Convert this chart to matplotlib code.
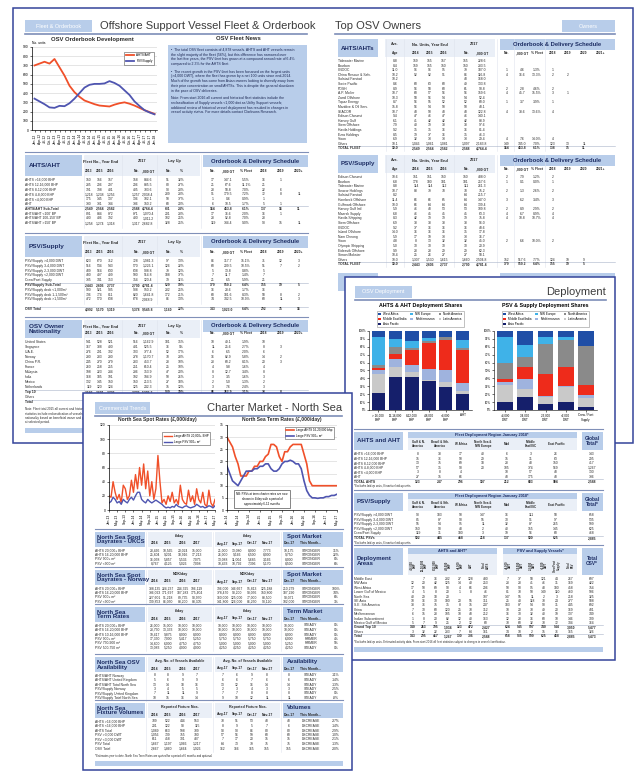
#!/usr/bin/env python3
"""Offshore support vessel report: three overlapping report pages
(fleet & orderbook spread, deployment page, North Sea charter market page)."""
import textwrap

import numpy as np
import matplotlib
matplotlib.use("Agg")
import matplotlib.pyplot as plt
from matplotlib.patches import Rectangle

plt.rcParams["font.family"] = ["Liberation Sans", "DejaVu Sans"]

# ---------------- chart data ----------------
ob_quarters = ["Jan-12", "Apr-12", "Jul-12", "Oct-12", "Jan-13", "Apr-13", "Jul-13",
               "Oct-13", "Jan-14", "Apr-14", "Jul-14", "Oct-14", "Jan-15", "Apr-15",
               "Jul-15", "Oct-15", "Jan-16", "Apr-16", "Jul-16", "Oct-16", "Jan-17",
               "Apr-17", "Jul-17", "Oct-17", "Jan-18"]
ob_ahts = [700, 720, 740, 720, 770, 680, 590, 480, 410, 360, 320, 300, 280, 265,
           260, 255, 275, 290, 300, 285, 265, 240, 215, 195, 175]
ob_psv = [340, 310, 280, 245, 240, 262, 258, 290, 340, 400, 460, 490, 500, 500,
          505, 530, 510, 480, 430, 380, 310, 260, 215, 190, 170]

ahts_cats = ["> 16,000\nBHP", "12-16,000\nBHP", "8-12,000\nBHP", "4-8,000\nBHP",
             "<4,000\nBHP", "AHT"]
psv_cats = [">4,000\nDWT", "3-4,000\nDWT", "2-3,000\nDWT", "<2,000\nDWT",
            "Crew / Fast\nSupply"]
# shares (%) per region, bottom of the stack first
regions = ["Asia Pacific", "Latin America", "Mediterranean", "Middle East/India",
           "North America", "NW Europe", "West Africa"]
region_colors = ["#151f6b", "#c9c9c9", "#9fb3de", "#ee2b1b", "#8a8a8a",
                 "#3fb2e8", "#1f4ea6"]
ahts_shares = [
    [22, 42, 42, 37, 29, 20],
    [23, 12, 6, 1, 6, 4],
    [6, 10, 9, 14, 15, 10],
    [2, 7, 19, 33, 39, 42],
    [4, 9, 2, 2, 3, 3],
    [36, 10, 9, 4, 1, 9],
    [7, 10, 13, 9, 7, 12],
]
psv_shares = [
    [10, 16, 8, 10, 4],
    [22, 11, 9, 19, 11],
    [4, 12, 1, 1, 4],
    [3, 16, 28, 24, 13],
    [20, 12, 38, 35, 49],
    [34, 15, 9, 3, 0],
    [7, 18, 7, 8, 19],
]

spot_ticks = ["Jan-13", "May-13", "Sep-13", "Jan-14", "May-14", "Sep-14", "Jan-15",
              "May-15", "Sep-15", "Jan-16", "May-16", "Sep-16", "Jan-17", "May-17"]
spot_ahts = [20, 18, 40, 25, 15, 22, 10, 35, 30, 15,
             20, 42, 25, 50, 30, 60, 35, 65, 30, 55,
             20, 40, 15, 30, 77, 40, 10, 15, 8, 20,
             12, 25, 10, 15, 8, 35, 15, 10, 8, 28,
             12, 20, 8, 30, 15, 10, 25, 8, 5, 28,
             10, 5, 15]
spot_psv = [10, 12, 18, 15, 10, 12, 8, 15, 12, 10,
            15, 18, 14, 20, 25, 25, 15, 12, 10, 15,
            12, 10, 12, 14, 12, 10, 8, 5, 3, 4,
            3, 5, 4, 8, 5, 4, 3, 5, 6, 4,
            3, 4, 5, 8, 6, 4, 5, 3, 4, 6,
            5, 3, 6]
term_ticks = ["Jan-14", "May-14", "Sep-14", "Jan-15", "May-15", "Sep-15", "Jan-16",
              "May-16", "Sep-16", "Jan-17", "May-17"]
term_ahts = [30, 28, 26, 22, 19, 14, 14, 14, 16, 16, 18, 18, 20, 20, 22, 23, 27, 27,
             26, 22, 20, 24, 24, 26, 27, 27, 27, 27, 23, 19, 12, 10, 10, 10, 10, 10,
             10, 10, 10, 10, 10]
term_psv = [18, 15, 12, 11, 10, 12, 14, 16, 16, 16, 17, 17, 18, 18, 19, 19, 17, 16,
            16, 17, 19, 20, 20, 20.5, 20, 19, 19, 17, 12, 8, 6, 5, 5, 4.8, 5, 5, 5.5,
            5.5, 6, 6, 6.5]

# ---------------- table data ----------------
news = [
    "\u2022  The total OSV fleet consists of 4,878 vessels. AHTS and AHT vessels remain "
    "the slight majority of the fleet (56%), but this difference has narrowed over the "
    "last five years, the PSV fleet has grown at a compound annual rate of 6.4% "
    "compared to 2.3% for the AHTS fleet.",
    "\u2022  The recent growth in the PSV fleet has been focussed on the largest units "
    "(>4,000 DWT), where the fleet has grown by a net 100 units since end-2014. Much of "
    "the growth has come from Asian owners looking to diversify away from their prior "
    "concentration on small AHTSs. This is despite the general slowdown in the pace of "
    "OSV deliveries.",
    "Note: From start 2016 all current and historical fleet statistics include the "
    "reclassification of Supply vessels <1,000 dwt as Utility Support vessels; additional "
    "review of historical vessel deployment has resulted in changes in vessel activity "
    "status. For more details contact Clarksons Research.",
]

fleet_groups = ["Fleet No., Year End", "2017", "Lay Up"]
fleet_group_x = [101, 142, 174]
fleet_sub = ["2013", "2015", "2016", "No.", ",000 GT", "No.", "%", "No.", ",000 GT",
             "% Fleet", "2018", "2019", "2020+"]
fleet_cols = [89, 100, 111, 136, 148, 168, 181, 213, 228, 246, 264, 281, 299]

ahts_labels = ["AHTS >16,000 BHP", "AHTS 12-16,000 BHP", "AHTS 8-12,000 BHP",
               "AHTS 4-8,000 BHP", "AHTS <4,000 BHP", "AHT", "AHTS/AHT Sub-Total",
               "AHTS/AHT <100' BP", "AHTS/AHT 100-150' BP", "AHTS/AHT >150' BP"]
ahts_vals = [
    "150 156 157 158 884.6 51 32% 17 147.1 5.5% 16 1 _",
    "285 296 297 296 885.5 80 27% 21 67.6 11.1% 21 _ _",
    "391 398 401 405 703.6 93 23% 28 58.8 7.0% 22 6 _",
    "1,218 1,238 1,256 1,257 2,038.4 289 23% 91 179.5 7.2% 72 8 11",
    "175 145 137 136 102.1 50 37% 1 0.6 0.9% 1 _ _",
    "330 331 334 336 150.2 68 20% 6 10.5 1.7% 5 1 _",
    "2,549 2,564 2,582 2,588 4,764.4 631 24% 164 463.8 6.1% 137 16 11",
    "891 884 872 871 1,070.4 201 23% 17 36.6 2.0% 16 1 _",
    "400 406 392 400 1,011.2 102 25% 28 92.8 7.0% 28 _ _",
    "1,258 1,274 1,318 1,317 2,682.8 328 25% 119 334.4 9.0% 93 15 11",
]
psv_labels = ["PSV/Supply >4,000 DWT", "PSV/Supply 3-4,000 DWT", "PSV/Supply 2-3,000 DWT",
              "PSV/Supply <2,000 DWT", "Crew/Fast Supply", "PSV/Supply Sub-Total",
              "PSV/Supply deck <1,000m\u00b2", "PSV/Supply deck 1-1,500m\u00b2",
              "PSV/Supply deck >1,500m\u00b2", "OSV Total"]
psv_vals = [
    "623 670 712 728 1,981.3 97 13% 86 317.7 15.1% 71 12 3",
    "516 534 543 570 1,226.1 126 22% 60 209.5 10.5% 51 7 2",
    "489 564 630 638 938.8 79 12% 5 13.8 0.8% 5 _ _",
    "480 497 499 500 514.8 188 37% 7 11.7 1.4% 7 _ _",
    "335 341 353 354 120.4 39 11% 21 6.5 5.9% 21 _ _",
    "2,443 2,606 2,737 2,790 4,781.4 529 19% 179 559.2 6.4% 155 19 5",
    "900 921 935 938 950.2 232 25% 16 28.6 1.7% 16 _ _",
    "736 774 811 820 1,641.8 172 21% 68 181.6 8.3% 58 8 2",
    "472 570 638 678 2,068.9 86 13% 74 342.5 10.9% 60 11 3",
    "4,992 5,170 5,319 5,378 9,545.8 1,160 22% 343 1,023.0 6.4% 292 35 16",
]
nat_labels = ["United States", "Singapore", "U.A.E.", "Norway", "China P.R.", "France",
              "Malaysia", "India", "Mexico", "Netherlands", "Top 10", "Others", "Total"]
nat_vals = [
    "541 528 521 516 1,162.9 181 35% 10 49.1 1.9% 10 _ _",
    "367 388 400 401 525.5 36 9% 11 25.6 2.7% 8 3 _",
    "276 291 302 303 377.4 52 17% 6 6.5 2.0% 6 _ _",
    "280 283 280 278 1,170.7 78 28% 16 82.9 5.8% 14 2 _",
    "245 270 279 283 453.7 28 10% 23 60.2 8.1% 20 3 _",
    "260 258 255 251 610.4 25 10% 4 9.8 1.6% 4 _ _",
    "198 223 234 236 353.9 47 20% 8 12.7 3.4% 8 _ _",
    "168 185 191 192 194.9 50 26% 3 3.5 1.6% 3 _ _",
    "132 145 150 150 213.5 27 18% 2 5.0 1.3% 2 _ _",
    "119 120 124 125 242.3 15 12% 3 7.6 2.4% 3 _ _",
    "2,586 2,691 2,736 2,735 5,305.2 539 20% 86 262.9 3.1% 78 8 _",
    "2,406 2,479 2,583 2,643 4,240.6 621 23% 257 760.1 9.7% 214 27 16",
    "4,992 5,170 5,319 5,378 9,545.8 1,160 22% 343 1,023.0 6.4% 292 35 16",
]

own_sub = ["Age", "2014", "2015", "2016", "No.", ",000 GT", "No.", ",000 GT", "% Fleet",
           "2018", "2019", "2020", "2021+"]
own_cols = [395, 416, 430, 444, 466, 482, 507, 522, 537, 553, 568, 584, 601]
own_ahts_labels = ["Tidewater Marine", "Bourbon", "CNOOC", "China Rescue & Salv.",
                   "Solstad Farstad", "Swire Pacific", "POSH", "A.P. Moller",
                   "Zamil Offshore", "Topaz Energy", "Maridive & Oil Serv.", "SEACOR",
                   "Edison Chouest", "Harvey Gulf", "Siem Offshore", "Havila Holdings",
                   "Ezra Holdings", "Vroon", "Others", "TOTAL FLEET"]
own_ahts_vals = [
    "8.8 159 155 157 155 228.6 _ _ _ _ _ _ _",
    "8.4 159 155 150 150 233.5 _ _ _ _ _ _ _",
    "11.0 96 96 95 79 187.0 1 4.6 1.3% 1 _ _ _",
    "10.2 92 92 91 86 116.8 4 16.6 13.3% 2 2 _ _",
    "10.2 _ _ _ 48 168.0 _ _ _ _ _ _ _",
    "8.6 60 63 60 49 133.8 _ _ _ _ _ _ _",
    "8.9 56 58 60 61 90.8 2 2.8 4.6% 2 _ _ _",
    "10.7 60 57 56 56 159.6 4 45.7 15.5% 3 1 _ _",
    "10.3 58 56 54 54 52.4 _ _ _ _ _ _ _",
    "8.7 56 55 52 52 60.0 1 3.7 3.9% 1 _ _ _",
    "15.8 56 54 50 50 48.1 _ _ _ _ _ _ _",
    "10.7 48 50 48 48 122.8 4 38.6 13.6% 4 _ _ _",
    "9.4 47 46 47 46 140.1 _ _ _ _ _ _ _",
    "6.1 41 42 42 42 88.9 _ _ _ _ _ _ _",
    "7.9 40 39 38 38 97.6 _ _ _ _ _ _ _",
    "9.2 35 35 36 36 81.4 _ _ _ _ _ _ _",
    "8.5 39 37 36 35 46.3 _ _ _ _ _ _ _",
    "6.9 32 33 33 33 29.4 4 7.6 14.0% 4 _ _ _",
    "10.1 1,046 1,061 1,081 1,097 2,183.8 149 345.0 7.0% 123 13 11 _",
    "10.0 2,549 2,564 2,582 2,588 4,764.4 164 463.8 6.1% 138 15 11 _",
]
own_psv_labels = ["Edison Chouest", "Bourbon", "Tidewater Marine", "Seacor Holdings",
                  "Solstad Farstad", "Hornbeck Offshore", "Gulfmark Offshore",
                  "Harvey Gulf Intl.", "Maersk Supply", "Havila Shipping", "Siem Offshore",
                  "CNOOC", "Island Offshore", "Nam Cheong", "Vroon", "Olympic Shipping",
                  "Eidesvik Offshore", "Simon Mokster", "Others", "TOTAL FLEET"]
own_psv_vals = [
    "10.6 151 151 150 150 438.0 2 7.9 1.2% 2 _ _ _",
    "6.8 178 180 181 181 257.6 1 0.1 0.0% 1 _ _ _",
    "8.8 114 114 112 111 261.3 _ _ _ _ _ _ _",
    "10.7 88 79 78 78 75.2 2 1.3 2.6% 2 _ _ _",
    "8.2 _ _ _ 64 215.7 _ _ _ _ _ _ _",
    "11.4 66 66 65 64 147.0 3 6.2 3.4% 3 _ _ _",
    "10.0 66 64 64 64 139.4 _ _ _ _ _ _ _",
    "5.9 46 48 53 53 109.8 2 8.9 2.9% 2 _ _ _",
    "6.8 46 45 45 45 63.3 4 6.7 8.9% 4 _ _ _",
    "8.3 42 39 39 39 75.8 4 10.8 10.7% 4 _ _ _",
    "6.9 38 38 38 38 96.0 _ _ _ _ _ _ _",
    "9.2 37 36 36 36 48.6 _ _ _ _ _ _ _",
    "14.0 36 36 36 35 17.8 _ _ _ _ _ _ _",
    "5.9 17 19 33 33 36.7 _ _ _ _ _ _ _",
    "4.8 8 13 32 32 45.0 2 6.6 10.0% 2 _ _ _",
    "5.0 30 30 30 30 20.9 _ _ _ _ _ _ _",
    "9.9 28 28 29 29 62.3 _ _ _ _ _ _ _",
    "10.4 25 26 27 27 58.1 _ _ _ _ _ _ _",
    "10.0 1,307 1,530 1,615 1,660 2,504.8 152 517.6 7.7% 124 19 9 _",
    "10.0 2,443 2,606 2,737 2,790 4,781.4 179 559.2 6.4% 155 19 5 _",
]

reg_heads = ["Gulf & N.\nAmerica", "Brazil & Sth.\nAmerica", "W Africa",
             "North Sea &\nNW Europe", "Med", "Middle\nEast/ISC", "East Pacific"]
reg_cols = [418, 440, 461, 483, 507, 531, 556, 592]
dep_ahts_labels = ["AHTS >16,000 BHP", "AHTS 12-16,000 BHP", "AHTS 8-12,000 BHP",
                   "AHTS 4-8,000 BHP", "AHTS <4,000 BHP", "AHT", "TOTAL AHTS"]
dep_ahts_vals = [
    "8 38 17 40 6 3 26 143",
    "15 76 50 29 15 31 63 295",
    "13 75 69 18 28 43 150 417",
    "57 35 90 20 105 374 569 1,267",
    "3 8 4 _ 10 57 48 130",
    "27 15 66 _ 48 175 48 336",
    "123 247 296 107 212 683 904 2,588",
]
dep_psv_labels = ["PSV/Supply >4,000 DWT", "PSV/Supply 3-4,000 DWT",
                  "PSV/Supply 2-3,000 DWT", "PSV/Supply <2,000 DWT", "Crew/Fast Supply",
                  "TOTAL PSVs"]
dep_psv_vals = [
    "93 183 50 147 16 111 58 658",
    "85 87 90 55 30 91 97 535",
    "55 54 95 11 32 87 265 599",
    "150 90 43 2 40 155 145 625",
    "119 31 180 3 19 56 60 468",
    "502 445 458 218 137 500 625 2,885",
]
area_ahts_heads = [">16,000\nBHP", "12-16,000\nBHP", "8-12,000\nBHP", "4-8,000\nBHP",
                   "<4,000\nBHP", "AHT", "Total\nAHTS"]
area_psv_heads = [">4,000\nDWT", "3-4,000\nDWT", "2-3,000\nDWT", "<2,000\nDWT",
                  "Crew/Fast\nSupply", "Total\nPSV"]
area_cols = [413, 424, 436, 448, 460, 471, 486, 508, 520, 532, 544, 557, 571, 592]
area_labels = ["Middle East", "NW Asia", "West Africa", "Lower Gulf of Mexico",
               "North Sea", "SE Asia", "S.E. Sth America", "China", "Mediterranean",
               "Indian Subcontinent", "Mexico Gulf of Mexico", "Grand Top 10", "Others",
               "Total"]
area_vals = [
    "_ 7 36 232 27 128 430 7 37 58 121 44 267 697",
    "12 20 42 125 14 40 253 23 28 41 46 31 169 422",
    "17 50 69 90 4 66 296 50 90 95 43 180 458 754",
    "4 5 8 20 1 8 46 81 70 50 149 110 460 506",
    "40 29 18 20 _ _ 107 147 55 11 2 3 218 325",
    "10 16 30 180 20 55 311 25 40 118 70 24 277 588",
    "38 76 75 35 8 15 247 183 87 54 90 31 445 692",
    "7 30 60 120 25 70 312 10 20 70 49 20 169 481",
    "6 15 28 105 10 48 212 16 30 32 40 19 137 349",
    "1 8 20 82 12 40 163 12 28 36 60 10 146 309",
    "5 7 9 25 2 12 60 70 60 32 70 72 304 364",
    "140 263 395 1,034 123 472 2,427 624 545 597 740 544 3,050 5,477",
    "3 32 22 233 7 64 161 34 10 2 15 76 165 326",
    "143 295 417 1,267 130 336 2,588 658 535 599 625 468 2,885 5,473",
]

ch_sub = ["2014", "2015", "2016", "2017", "Aug-17", "Sep-17", "Oct-17", "Nov-17",
          "Dec-17", "This Month...", ""]
ch_cols = [155, 168, 183, 197, 223, 237, 252, 267, 289, 311, 336]
uk_labels = ["AHTS 20,000+ BHP", "AHTS 16-20,000 BHP", "PSV 900+ m\u00b2", "PSV <900 m\u00b2"]
uk_vals = [
    "28,466 10,565 20,024 15,000 21,000 13,080 8,000 7,773 10,175 STRONGER 31%",
    "25,804 9,201 18,916 17,213 26,000 9,166 6,500 8,000 9,750 STRONGER 22%",
    "16,058 5,857 5,536 7,075 13,088 11,004 5,685 3,166 8,000 STRONGER 8%",
    "8,767 4,125 5,026 7,098 10,433 10,792 7,396 5,170 8,500 STRONGER 6%",
]
nor_vals = [
    "388,135 224,237 244,325 196,119 396,000 146,667 95,813 125,188 210,279 STRONGER 100%",
    "336,023 171,697 187,283 175,404 378,470 98,200 98,056 150,800 187,290 STRONGER 74%",
    "227,601 91,218 89,735 98,970 160,000 125,000 77,000 88,500 98,071 STRONGER 6%",
    "139,853 86,050 88,200 88,305 141,800 126,000 86,250 93,120 102,000 STRONGER 3%",
]
term_labels = ["AHTS 20,000+ BHP", "AHTS 16-20,000 BHP", "AHTS 10-16,000 BHP",
               "PSV 900+ m\u00b2", "PSV 750-900 m\u00b2", "PSV 500-750 m\u00b2"]
term_vals = [
    "26,000 15,000 10,000 10,000 10,000 10,000 10,000 10,000 10,000 STEADY 0%",
    "23,750 13,333 10,000 10,000 10,000 10,000 10,000 10,000 10,000 STEADY 0%",
    "19,417 9,875 8,000 8,000 8,000 8,000 8,000 8,000 8,000 STEADY 0%",
    "17,350 7,000 5,417 5,250 5,750 5,750 5,750 5,750 6,000 FIRMER 4%",
    "14,800 6,000 4,750 4,750 5,000 5,000 5,000 5,000 5,250 FIRMER 5%",
    "13,083 5,250 4,000 4,000 4,250 4,250 4,250 4,250 4,250 STEADY 0%",
]
avail_labels = ["AHTS/AHT Norway", "AHTS/AHT United Kingdom", "AHTS/AHT Total North Sea",
                "PSV/Supply Norway", "PSV/Supply United Kingdom",
                "PSV/Supply Total North Sea"]
avail_vals = [
    "8 8 9 7 7 6 9 8 8 STEADY -11%",
    "5 6 9 9 6 6 7 6 6 STEADY -14%",
    "13 14 18 16 13 12 16 14 14 STEADY -13%",
    "3 4 5 5 2 3 4 3 3 STEADY -25%",
    "7 11 11 9 7 7 8 8 8 STEADY 0%",
    "10 15 16 14 9 10 12 11 11 STEADY -8%",
]
fix_labels = ["AHTS >16,000 BHP", "AHTS <16,000 BHP", "AHTS Total", "PSV >3,000 DWT",
              "PSV <3,000 DWT", "PSV Total", "OSV Total"]
fix_vals = [
    "789 522 444 553 70 51 53 48 48 DECREASE -37%",
    "201 122 98 115 8 9 5 7 6 DECREASE -14%",
    "1,089 663 598 709 98 93 86 80 80 DECREASE -29%",
    "1,056 739 755 780 57 56 59 60 60 DECREASE -10%",
    "611 458 301 437 7 17 20 15 15 DECREASE -21%",
    "1,667 1,197 1,066 1,217 64 73 79 75 75 DECREASE -13%",
    "2,667 1,860 1,664 1,926 162 166 165 155 155 DECREASE -30%",
]

# ---------------- drawing helpers ----------------
W, H = 637, 773
NAVY = "#34449a"
BOX = "#b8cdea"
PALE = "#eaeff7"
HEAD = "#1d2d63"
TXT = "#2b2b2b"
RED = "#f0502a"
BLUE = "#4f55b0"

fig = plt.figure(figsize=(W / 100, H / 100), dpi=100)


def layer(z):
    ax = fig.add_axes([0, 0, 1, 1], zorder=z)
    ax.set_xlim(0, W)
    ax.set_ylim(H, 0)
    ax.axis("off")
    return ax


def inset(x0, y0, x1, y1, z):
    return fig.add_axes([x0 / W, 1 - y1 / H, (x1 - x0) / W, (y1 - y0) / H], zorder=z)


def rect(ax, x0, y0, x1, y1, fc=BOX, ec="none", lw=0):
    ax.add_patch(Rectangle((x0, y0), x1 - x0, y1 - y0, fc=fc, ec=ec, lw=lw))


def txt(ax, x, y, s, size=2.4, ha="left", weight="normal", color=TXT, **kw):
    ax.text(x, y, s, fontsize=size, ha=ha, va="center", fontweight=weight,
            color=color, linespacing=1.0, **kw)


def hline(ax, x0, x1, y, color="#a8b2c8", lw=0.4):
    ax.plot([x0, x1], [y, y], color=color, lw=lw)


def rows(ax, labels, vals, xl, cols, y0, dy, bold=(), x1=None):
    for i, (lab, v) in enumerate(zip(labels, vals)):
        y = y0 + i * dy
        w = "bold" if i in bold else "normal"
        if i in bold and x1 is not None:
            hline(ax, xl, x1, y - dy / 2)
        txt(ax, xl, y, lab, weight=w)
        for x, s in zip(cols, v.split()):
            if s != "_":
                txt(ax, x, y, s, ha="center", weight=w)


def page_header(ax, tab, tx0, tx1, y, title, title_x, ha, lx0, lx1):
    rect(ax, tx0, y - 6, tx1, y + 6)
    txt(ax, (tx0 + tx1) / 2, y, tab, size=4, ha="center", color="white")
    txt(ax, title_x, y, title, size=8, ha=ha, color="#3c3c3c")
    hline(ax, lx0, lx1, y + 8, color="#7d8db8", lw=1.2)


def line_style(ax, ymax, step):
    ax.set_ylim(0, ymax)
    ax.set_yticks(range(0, ymax + 1, step))
    ax.grid(axis="y", color="#d2d2d2", lw=0.4)
    ax.set_axisbelow(True)
    for s in ("top", "right"):
        ax.spines[s].set_visible(False)
    for s in ("left", "bottom"):
        ax.spines[s].set_linewidth(0.5)
    ax.tick_params(labelsize=2.4, length=1.5, width=0.4, pad=1)


def small_legend(ax, **kw):
    leg = ax.legend(fontsize=2.2, handlelength=2.6, borderpad=0.5, labelspacing=0.6,
                    fancybox=False, edgecolor="#555555", framealpha=1, **kw)
    leg.get_frame().set_linewidth(0.4)


# ================= spread: Fleet & Orderbook + Top OSV Owners =================
L0 = layer(0)
rect(L0, 13, 8, 633, 443, fc="white", ec=NAVY, lw=1.1)
page_header(L0, "Fleet & Orderbook", 25, 92, 26,
            "Offshore Support Vessel Fleet & Orderbook", 100, "left", 25, 307)
page_header(L0, "Owners", 562, 615, 26, "Top OSV Owners", 335, "left", 335, 615)

# OSV orderbook development
txt(L0, 92, 39, "OSV Orderbook Development", size=4.2, ha="center", weight="bold")
ob = inset(32, 47, 157, 130, 1)
qx = np.arange(len(ob_quarters))
ob.plot(qx, ob_ahts, color=RED, lw=1.3, label="AHTS/AHT")
ob.plot(qx, ob_psv, color=BLUE, lw=1.3, label="PSV/Supply")
line_style(ob, 900, 100)
ob.set_xlim(-0.5, len(qx) - 0.5)
ob.set_xticks(qx, ob_quarters, rotation=90)
ob.text(0.0, 1.02, "No. units", transform=ob.transAxes, fontsize=2.4, va="bottom")
small_legend(ob, loc="upper right", bbox_to_anchor=(0.99, 0.96))

# fleet news box
txt(L0, 238, 39, "OSV Fleet News", size=4.2, ha="center", weight="bold")
rect(L0, 168, 45, 307, 143)
ny = 50
for para in news:
    for ln in textwrap.wrap(para, 78):
        txt(L0, 171, ny, ln, size=2.5, color="#1a2550")
        ny += 4.7
    ny += 3


def fleet_table(ax, y, title, labels, vals, bold, h=21, dy=4.8):
    hline(ax, 25, 308, y - 3, color="#8090b8", lw=0.8)
    rect(ax, 25, y, 82, y + h)
    txt(ax, 29, y + h / 2, title, size=4.6, weight="bold", color=HEAD)
    rect(ax, 85, y, 200, y + h, fc=PALE)
    for s, x in zip(fleet_groups, fleet_group_x):
        txt(ax, x, y + 6, s, size=2.8, ha="center", weight="bold")
    rect(ax, 203, y, 308, y + 12)
    txt(ax, 255, y + 6, "Orderbook & Delivery Schedule", size=4.2, ha="center",
        weight="bold", color=HEAD)
    for s, x in zip(fleet_sub, fleet_cols):
        txt(ax, x, y + h - 5, s, ha="center", weight="bold")
    for x in (84, 122, 157, 201):
        ax.plot([x, x], [y, y + h + 4 + len(labels) * dy], color="#dfe4ee", lw=0.4)
    rows(ax, labels, vals, 25, fleet_cols, y + h + 4, dy, bold, x1=308)


fleet_table(L0, 155, "AHTS/AHT", ahts_labels, ahts_vals, {6})
fleet_table(L0, 236, "PSV/Supply", psv_labels[:-1], psv_vals[:-1], {5})
rows(L0, psv_labels[-1:], psv_vals[-1:], 25, fleet_cols, 309, 4.8, {0}, x1=308)
fleet_table(L0, 320, "OSV Owner\nNationality", nat_labels, nat_vals, {10, 12}, h=18,
            dy=5.0)
note = ("Note: Fleet total 2015 all current and historical fleet statistics include "
        "reclassification of vessels; owner nationality based on beneficial owner and "
        "parent company as at selected period.")
for i, ln in enumerate(textwrap.wrap(note, 60)):
    txt(L0, 25, 409 + i * 4.5, ln, size=2.2)
rect(L0, 25, 428, 307, 433)


def owners_table(ax, y, title, labels, vals):
    rect(ax, 338, y, 378, y + 18)
    txt(ax, 341, y + 9, title, size=4.4, weight="bold", color=HEAD)
    rect(ax, 385, y, 495, y + 18, fc=PALE)
    txt(ax, 395, y + 5, "Ave.", size=2.6, ha="center", weight="bold")
    txt(ax, 430, y + 5, "No. Units, Year End", size=2.8, ha="center", weight="bold")
    txt(ax, 474, y + 5, "2017", size=2.8, ha="center", weight="bold")
    rect(ax, 500, y, 615, y + 11)
    txt(ax, 557, y + 5.5, "Orderbook & Delivery Schedule", size=4.2, ha="center",
        weight="bold", color=HEAD)
    for s, x in zip(own_sub, own_cols):
        txt(ax, x, y + 14, s, ha="center", weight="bold")
    for x in (386, 404, 454, 497, 514, 545):
        ax.plot([x, x], [y, y + 20 + len(labels) * 4.6], color="#dfe4ee", lw=0.4)
    rows(ax, labels, vals, 338, own_cols, y + 22, 4.6, {len(labels) - 1}, x1=615)


owners_table(L0, 39, "AHTS/AHTs", own_ahts_labels, own_ahts_vals)
owners_table(L0, 155, "PSV/Supply", own_psv_labels, own_psv_vals)
rect(L0, 338, 273, 378, 291)
rect(L0, 500, 273, 615, 284)

# ================= Deployment page =================
L1 = layer(2)
rect(L1, 345, 277, 615, 660, fc="white", ec=NAVY, lw=1.1)
page_header(L1, "OSV Deployment", 355, 412, 292, "Deployment", 606, "right", 355, 606)


def share_chart(ax, cats, shares, title):
    x = np.arange(len(cats))
    bottom = np.zeros(len(cats))
    handles = {}
    for name, col, vals in zip(regions, region_colors, shares):
        handles[name] = ax.bar(x, vals, bottom=bottom, width=0.78, color=col,
                               label=name)
        bottom += np.array(vals)
    ax.set_ylim(0, 100)
    ax.set_xlim(-0.55, len(cats) - 0.45)
    ax.set_yticks(range(0, 101, 10), [f"{v}%" for v in range(0, 101, 10)])
    ax.set_xticks(x, cats)
    ax.tick_params(labelsize=2.2, length=1.2, width=0.4, pad=1)
    for s in ("top", "right"):
        ax.spines[s].set_visible(False)
    for s in ("left", "bottom"):
        ax.spines[s].set_linewidth(0.4)
    order = ["West Africa", "Middle East/India", "Asia Pacific", "NW Europe",
             "Mediterranean", "North America", "Latin America"]
    leg = ax.legend([handles[k] for k in order], order, ncol=3, fontsize=2.2,
                    loc="lower center", bbox_to_anchor=(0.5, 1.03), handlelength=0.8,
                    handleheight=0.8, columnspacing=1.2, labelspacing=0.25,
                    borderpad=0.4, fancybox=False, edgecolor="#777777")
    leg.get_frame().set_linewidth(0.4)
    ax.set_title(title, fontsize=3.8, fontweight="bold", pad=17)


share_chart(inset(369, 331, 472, 410, 3), ahts_cats, ahts_shares,
            "AHTS & AHT Deployment Shares")
share_chart(inset(494, 331, 597, 410, 3), psv_cats, psv_shares,
            "PSV & Supply Deployment Shares")


def region_table(ax, y, title, labels, vals, foot):
    hline(ax, 354, 603, y - 3, color="#8090b8", lw=0.8)
    rect(ax, 354, y, 403, y + 18)
    txt(ax, 357, y + 9, title, size=4.4, weight="bold", color=HEAD)
    rect(ax, 408, y, 577, y + 6)
    txt(ax, 492, y + 3, "Fleet Deployment Region January 2018*", size=2.8,
        ha="center", weight="bold", color=HEAD)
    rect(ax, 408, y + 6, 577, y + 18, fc=PALE)
    for s, x in zip(reg_heads, reg_cols):
        txt(ax, x, y + 12, s, size=2.2, ha="center", weight="bold")
    rect(ax, 582, y, 603, y + 18)
    txt(ax, 592, y + 9, "Global\nTotal*", size=3.4, ha="center", weight="bold",
        color=HEAD)
    rows(ax, labels, vals, 354, reg_cols, y + 22, 4.6, {len(labels) - 1}, x1=603)
    txt(ax, 354, y + 22 + len(labels) * 4.6, foot, size=2.0)


region_table(L1, 432, "AHTS and AHT", dep_ahts_labels, dep_ahts_vals,
             "*Excludes laid-up units, 8 inactive laid-up units.")
region_table(L1, 493, "PSV/Supply", dep_psv_labels, dep_psv_vals,
             "*Excludes laid-up units, 6 inactive laid-up units.")

hline(L1, 354, 603, 545, color="#8090b8", lw=0.8)
rect(L1, 354, 548, 403, 575)
txt(L1, 357, 561, "Deployment\nAreas", size=4.4, weight="bold", color=HEAD)
rect(L1, 408, 548, 497, 554)
txt(L1, 452, 551, "AHTS and AHT*", size=2.8, ha="center", weight="bold", color=HEAD)
rect(L1, 503, 548, 577, 554)
txt(L1, 540, 551, "PSV and Supply Vessels*", size=2.8, ha="center", weight="bold",
    color=HEAD)
rect(L1, 408, 554, 497, 575, fc=PALE)
rect(L1, 503, 554, 577, 575, fc=PALE)
rect(L1, 582, 548, 603, 575)
txt(L1, 592, 561, "Total\nOSV*", size=3.4, ha="center", weight="bold", color=HEAD)
for s, x in zip(area_ahts_heads + area_psv_heads, area_cols):
    txt(L1, x, 565, s, size=2.0, ha="center", weight="bold", rotation=90)
rows(L1, area_labels, area_vals, 354, area_cols, 579, 4.4, {11, 13}, x1=603)
txt(L1, 354, 642, "*Excludes laid-up units. Estimated activity data. From start 2016 "
    "all fleet statistics subject to changes in vessel classification.", size=2.0)
rect(L1, 354, 647, 603, 652)

# ================= Charter market page =================
L2 = layer(4)
rect(L2, 83, 393, 352, 770, fc="white", ec=NAVY, lw=1.1)
page_header(L2, "Commercial Trends", 95, 150, 408, "Charter Market - North Sea", 342,
            "right", 95, 342)

txt(L2, 157, 420, "North Sea Spot Rates (\u00a3,000/day)", size=3.6, ha="center",
    weight="bold")
sp = inset(109, 425, 215, 510, 5)
sx = np.arange(len(spot_ahts))
sp.plot(sx, spot_ahts, color=RED, lw=1.0, label="Large AHTS 20,000+ BHP")
sp.plot(sx, spot_psv, color=BLUE, lw=1.0, label="Large PSV 900+ m\u00b2")
line_style(sp, 120, 20)
sp.set_xlim(0, len(sx) - 1)
sp.set_xticks(np.arange(0, len(sx), 4), spot_ticks, rotation=90)
small_legend(sp, loc="upper right", bbox_to_anchor=(0.97, 0.93))

txt(L2, 282, 420, "North Sea Term Rates (\u00a3,000/day)", size=3.6, ha="center",
    weight="bold")
tm = inset(227, 425, 337, 510, 5)
tx = np.arange(len(term_ahts))
tm.plot(tx, term_ahts, color=RED, lw=1.2, label="Large AHTS 16-20,000 bhp")
tm.plot(tx, term_psv, color=BLUE, lw=1.2, label="Large PSV 900+ m\u00b2")
line_style(tm, 35, 5)
tm.set_xlim(0, len(tx) - 1)
tm.set_xticks(np.arange(0, len(tx), 4), term_ticks, rotation=90)
small_legend(tm, loc="upper right", bbox_to_anchor=(0.99, 1.0))
tm.text(0.32, 0.13, "NB: PSVs at term charter rates are now\nshown in \u00a3/day with "
        "a period of\napproximately 6-12 months", transform=tm.transAxes,
        fontsize=2.1, ha="center", va="center",
        bbox=dict(fc="white", ec="#555555", lw=0.5, pad=1.5))


def charter_section(ax, y, title, unit, right, labels, vals):
    hline(ax, 95, 343, y - 3, color="#8090b8", lw=0.8)
    rect(ax, 95, y, 145, y + 15)
    txt(ax, 97, y + 7.5, title, size=4.3, weight="bold", color=HEAD)
    for xa, xb in ((148, 212), (215, 280)):
        rect(ax, xa, y, xb, y + 15, fc=PALE)
        txt(ax, (xa + xb) / 2, y + 4, unit, size=2.6, ha="center", weight="bold")
    rect(ax, 283, y, 343, y + 15)
    txt(ax, 287, y + 4.5, right, size=4.3, weight="bold", color=HEAD)
    for s, x in zip(ch_sub, ch_cols):
        if s:
            txt(ax, x, y + 11.5, s, ha="center", weight="bold")
    for x in (146, 213, 281):
        ax.plot([x, x], [y, y + 17 + len(labels) * 4.5], color="#dfe4ee", lw=0.4)
    rows(ax, labels, vals, 95, ch_cols, y + 18.5, 4.5)


charter_section(L2, 532, "North Sea Spot\nDayrates - UKCS", "\u00a3/day", "Spot Market",
                uk_labels, uk_vals)
charter_section(L2, 570, "North Sea Spot\nDayrates - Norway", "NOK/day", "Spot Market",
                uk_labels, nor_vals)
charter_section(L2, 607, "North Sea\nTerm Rates", "\u00a3/day", "Term Market",
                term_labels, term_vals)
charter_section(L2, 657, "North Sea OSV\nAvailability", "Avg. No. of Vessels Available",
                "Availability", avail_labels, avail_vals)
charter_section(L2, 703, "North Sea\nFixture Volumes", "Reported Fixture Nos.",
                "Volumes", fix_labels, fix_vals)
txt(L2, 95, 756, "*Estimates year to date. North Sea Term Rates are quoted for a period "
    "of 6 months and optional.", size=2.0)
rect(L2, 95, 761, 343, 766)

fig.savefig("out.png", dpi=100, facecolor="white")
